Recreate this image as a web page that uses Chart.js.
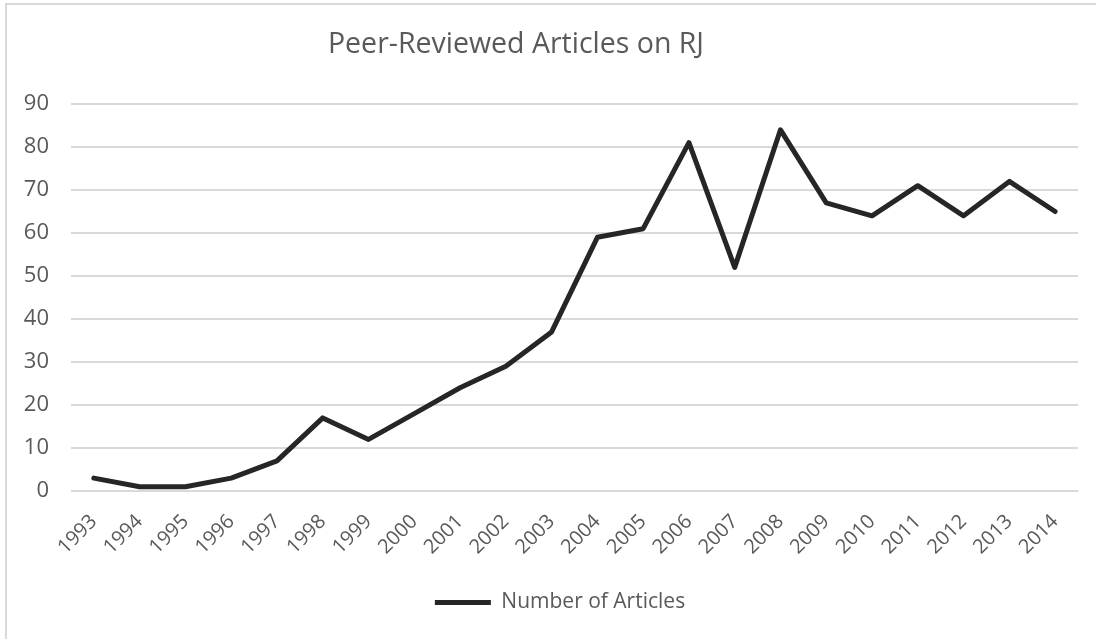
<!DOCTYPE html>
<html>
<head>
<meta charset="utf-8">
<script src="https://cdn.jsdelivr.net/npm/chart.js@4/dist/chart.umd.min.js"></script>
<style>
  html, body { margin: 0; padding: 0; background: #fff; }
  #wrap { width: 1096px; height: 639px; }
</style>
</head>
<body>
<div id="wrap"><canvas id="myChart"></canvas></div>
<script>
const years = ['1993', '1994', '1995', '1996', '1997', '1998', '1999', '2000', '2001', '2002', '2003',
               '2004', '2005', '2006', '2007', '2008', '2009', '2010', '2011', '2012', '2013', '2014'];
const numberOfArticles = [3, 1, 1, 3, 7, 17, 12, 18, 24, 29, 37, 59, 61, 81, 52, 84, 67, 64, 71, 64, 72, 65];
const yTicks = [0, 10, 20, 30, 40, 50, 60, 70, 80, 90];
const chartTitle = 'Peer-Reviewed Articles on RJ';

const textColor = '#595959';
const fontFamily = '"Open Sans", "Noto Sans", sans-serif';

// Excel-like frame (only top and left edges show) and the title, which sits left of centre
const frame = {
    id: 'frame',
    afterLayout(chart) {
        // legend in the picture sits a bit right of the centre
        chart.legend.left += 16;
        chart.legend.right += 16;
    },
    beforeDraw(chart) {
        const c = chart.ctx;
        c.save();
        c.fillStyle = '#fff';
        c.fillRect(0, 0, chart.width, chart.height);
        c.strokeStyle = '#d9d9d9';
        c.lineWidth = 2;
        c.beginPath();
        c.moveTo(6, chart.height);
        c.lineTo(6, 4);
        c.lineTo(chart.width, 4);
        c.stroke();
        c.fillStyle = textColor;
        c.font = '28.5px ' + fontFamily;
        c.textAlign = 'center';
        c.textBaseline = 'middle';
        c.fillText(chartTitle, 516, 45);
        c.restore();
    }
};

const ctx = document.getElementById('myChart');

const chart = new Chart(ctx, {
    type: 'line',
    data: {
        labels: years,
        datasets: [
            {
                label: 'Number of Articles',
                data: numberOfArticles,
                borderColor: '#262626',
                backgroundColor: '#262626',
                borderWidth: 5,
                borderCapStyle: 'round',
                borderJoinStyle: 'round',
                pointRadius: 0,
                pointHoverRadius: 0,
                tension: 0
            }
        ]
    },
    options: {
        responsive: true,
        maintainAspectRatio: false,
        animation: false,
        layout: {
            padding: { left: 10, right: 18, top: 104, bottom: 16 }
        },
        plugins: {
            title: { display: false },
            legend: {
                position: 'bottom',
                labels: {
                    color: textColor,
                    font: { family: fontFamily, size: 21 },
                    usePointStyle: true,
                    pointStyle: 'line',
                    pointStyleWidth: 56,
                    boxHeight: 21
                }
            },
            tooltip: { enabled: false }
        },
        scales: {
            x: {
                offset: true,
                grid: { display: false },
                border: { color: '#d9d9d9', width: 1 },
                ticks: {
                    color: textColor,
                    font: { family: fontFamily, size: 20 },
                    minRotation: 45,
                    maxRotation: 45,
                    padding: 11
                },
                afterFit(scale) { scale.height = 91; }
            },
            y: {
                min: 0,
                max: 90,
                afterBuildTicks(scale) { scale.ticks = yTicks.map(v => ({ value: v })); },
                grid: { color: '#d9d9d9', lineWidth: 2, drawTicks: false },
                border: { display: false },
                ticks: {
                    color: textColor,
                    font: { family: fontFamily, size: 22 },
                    padding: 22
                },
                afterFit(scale) { scale.width = 61; }
            }
        }
    },
    plugins: [frame]
});
</script>
</body>
</html>
